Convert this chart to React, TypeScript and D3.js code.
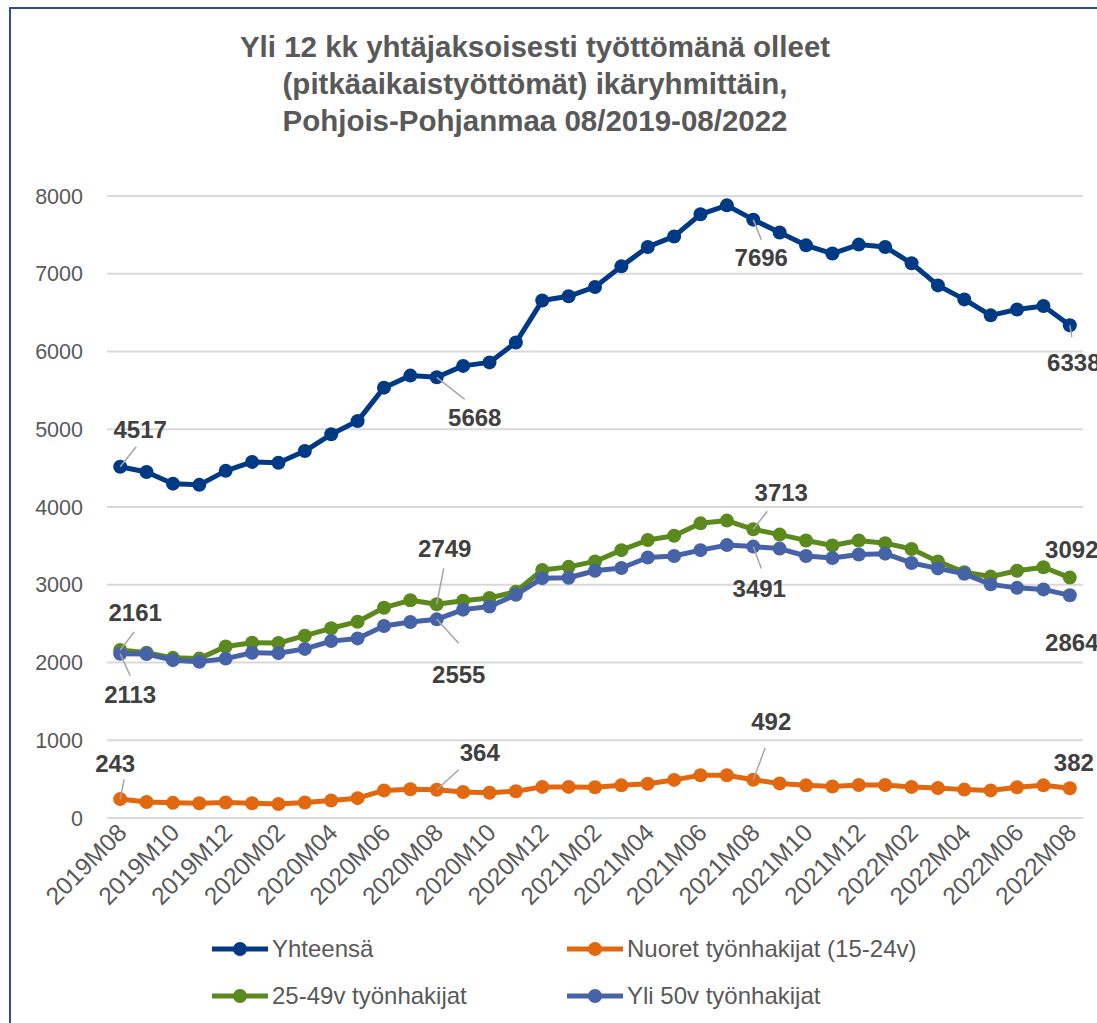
import React from "react";
import * as d3 from "d3";

const months: string[] = [];
for (let y = 2019; y <= 2022; y++) {
  for (let m = 1; m <= 12; m++) {
    if ((y === 2019 && m < 8) || (y === 2022 && m > 8)) continue;
    months.push(`${y}M${String(m).padStart(2, "0")}`);
  }
}

const yhteensa = [4517, 4450, 4300, 4285, 4465, 4580, 4570, 4720, 4935, 5105, 5535, 5690, 5668, 5815, 5860, 6115, 6655, 6710, 6830, 7095, 7345, 7480, 7765, 7880, 7696, 7530, 7365, 7260, 7375, 7345, 7135, 6850, 6670, 6465, 6540, 6585, 6338];
const nuoret = [243, 205, 195, 190, 200, 190, 180, 200, 225, 255, 355, 370, 364, 335, 325, 345, 400, 400, 395, 420, 440, 490, 550, 550, 492, 445, 420, 405, 425, 425, 400, 385, 365, 355, 395, 420, 382];
const keski = [2161, 2125, 2060, 2050, 2205, 2255, 2250, 2345, 2440, 2525, 2705, 2800, 2749, 2795, 2830, 2910, 3190, 3230, 3300, 3445, 3575, 3630, 3790, 3825, 3713, 3645, 3570, 3505, 3570, 3535, 3460, 3300, 3160, 3105, 3180, 3225, 3092];
const yli50 = [2113, 2110, 2030, 2010, 2050, 2125, 2120, 2175, 2275, 2310, 2470, 2520, 2555, 2680, 2720, 2870, 3085, 3090, 3180, 3215, 3350, 3370, 3445, 3510, 3491, 3465, 3370, 3345, 3390, 3400, 3280, 3210, 3140, 3005, 2960, 2940, 2864];

const yTicks = [0, 1000, 2000, 3000, 4000, 5000, 6000, 7000, 8000];
const titleLines = [
  "Yli 12 kk yhtäjaksoisesti työttömänä olleet",
  "(pitkäaikaistyöttömät) ikäryhmittäin,",
  "Pohjois-Pohjanmaa 08/2019-08/2022",
];

const series = [
  { name: "Yhteensä", values: yhteensa, color: "#013A84" },
  { name: "Nuoret työnhakijat (15-24v)", values: nuoret, color: "#E2680F" },
  { name: "25-49v työnhakijat", values: keski, color: "#5B891D" },
  { name: "Yli 50v työnhakijat", values: yli50, color: "#4763A8" },
];

// which points carry a data label, and where the label sits relative to the point
const labels = [
  { s: 0, i: 0, dx: 20, dy: -37, lx: 16, ly: -20 },
  { s: 0, i: 12, dx: 38, dy: 40, lx: 28, ly: 22 },
  { s: 0, i: 24, dx: 8, dy: 38, lx: 8, ly: 20 },
  { s: 0, i: 36, dx: 4, dy: 37, lx: 2, ly: 12 },
  { s: 2, i: 0, dx: 15, dy: -37, lx: 14, ly: -18 },
  { s: 3, i: 0, dx: 10, dy: 41, lx: 10, ly: 22 },
  { s: 2, i: 12, dx: 8, dy: -56, lx: 7, ly: -36 },
  { s: 3, i: 12, dx: 22, dy: 55, lx: 22, ly: 24 },
  { s: 2, i: 24, dx: 28, dy: -37, lx: 14, ly: -18 },
  { s: 3, i: 24, dx: 6, dy: 42, lx: 8, ly: 22 },
  { s: 2, i: 36, dx: 2, dy: -28, lx: 0, ly: 0 },
  { s: 3, i: 36, dx: 2, dy: 47, lx: 0, ly: 0 },
  { s: 1, i: 0, dx: -5, dy: -36, lx: 4, ly: -20 },
  { s: 1, i: 12, dx: 43, dy: -37, lx: 22, ly: -20 },
  { s: 1, i: 24, dx: 18, dy: -58, lx: 12, ly: -32 },
  { s: 1, i: 36, dx: 4, dy: -26, lx: 0, ly: 0 },
];

const font = "'Liberation Sans', Arial, sans-serif";

export default function App() {
  const width = 1097;
  const height = 1023;
  const left = 107;
  const right = 1083;
  const top = 196;
  const bottom = 818;

  const x = d3.scaleBand<string>().domain(months).range([left, right]);
  const xc = (i: number) => (x(months[i]) as number) + x.bandwidth() / 2;
  const y = d3.scaleLinear().domain([0, 8000]).range([bottom, top]);

  const line = d3
    .line<number>()
    .x((_, i) => xc(i))
    .y((d) => y(d));

  const legend = [
    { s: 0, x: 212, y: 949 },
    { s: 1, x: 567, y: 949 },
    { s: 2, x: 212, y: 996 },
    { s: 3, x: 567, y: 996 },
  ];

  return (
    <svg width={width} height={height} style={{ display: "block", position: "absolute", left: 0, top: 0 }}>
      <rect x={0} y={0} width={width} height={height} fill="#fff" />
      <rect x={10} y={8} width={width + 20} height={height + 20} fill="none" stroke="#2B4F93" strokeWidth={2} />
      <g fontFamily={font} fontWeight="bold" fontSize={29.5} fill="#595959" textAnchor="middle">
        {titleLines.map((t, i) => (
          <text key={i} x={535} y={57 + i * 37}>
            {t}
          </text>
        ))}
      </g>
      <g>
        {yTicks.map((t) => (
          <g key={t}>
            <line x1={left} x2={right} y1={y(t)} y2={y(t)} stroke="#D9D9D9" strokeWidth={2} />
            <text x={83} y={y(t)} dy="0.35em" textAnchor="end" fontFamily={font} fontSize={21.5} fill="#595959">
              {t}
            </text>
          </g>
        ))}
      </g>
      <g fontFamily={font} fontSize={24.5} fill="#595959">
        {months.map((m, i) =>
          i % 2 === 0 ? (
            <text
              key={m}
              textAnchor="end"
              transform={`translate(${xc(i) + 8},${bottom + 16}) rotate(-45)`}
            >
              {m}
            </text>
          ) : null
        )}
      </g>
      {series.map((s) => (
        <g key={s.name}>
          <path d={line(s.values) as string} fill="none" stroke={s.color} strokeWidth={5} strokeLinejoin="round" />
          {s.values.map((v, i) => (
            <circle key={i} cx={xc(i)} cy={y(v)} r={7} fill={s.color} />
          ))}
        </g>
      ))}
      <g fontFamily={font} fontWeight="bold" fontSize={24} fill="#404040" textAnchor="middle">
        {labels.map((l, k) => {
          const v = series[l.s].values[l.i];
          const px = xc(l.i);
          const py = y(v);
          return (
            <g key={k}>
              {(l.lx !== 0 || l.ly !== 0) && (
                <line x1={px} y1={py} x2={px + l.lx} y2={py + l.ly} stroke="#A6A6A6" strokeWidth={1.5} />
              )}
              <text x={px + l.dx} y={py + l.dy} dy="0.35em">
                {v}
              </text>
            </g>
          );
        })}
      </g>
      <g fontFamily={font} fontSize={24} fill="#595959">
        {legend.map((l) => (
          <g key={l.s}>
            <line x1={l.x} x2={l.x + 56} y1={l.y} y2={l.y} stroke={series[l.s].color} strokeWidth={5} />
            <circle cx={l.x + 28} cy={l.y} r={7} fill={series[l.s].color} />
            <text x={l.x + 60} y={l.y} dy="0.35em">
              {series[l.s].name}
            </text>
          </g>
        ))}
      </g>
    </svg>
  );
}
